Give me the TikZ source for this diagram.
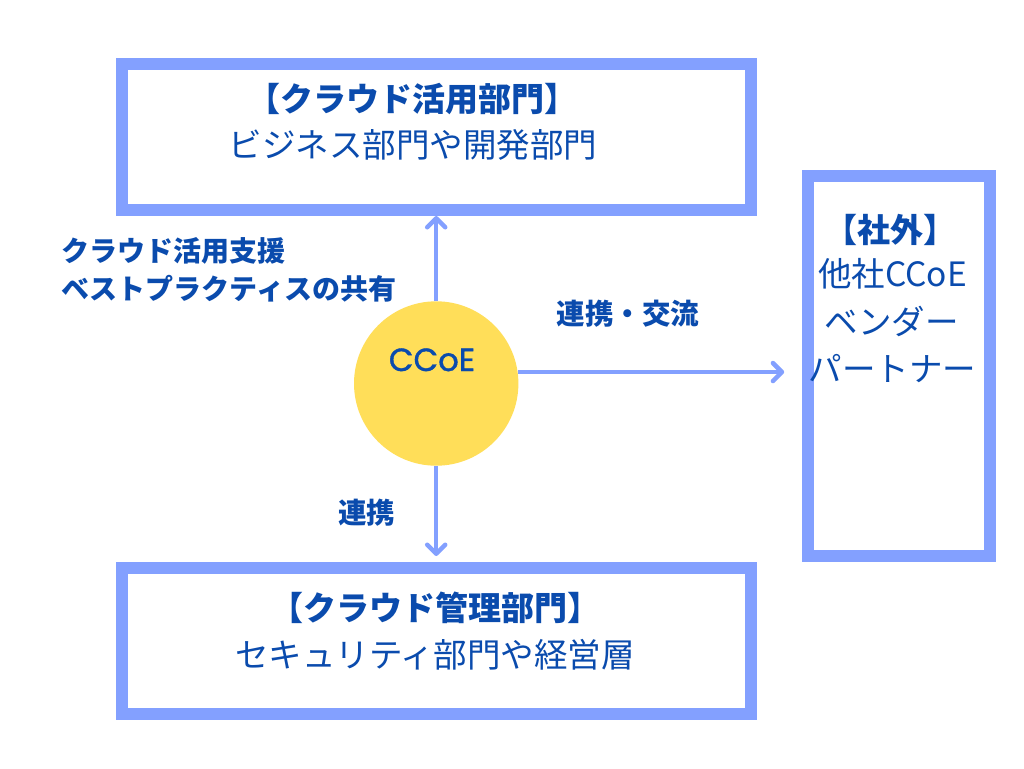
\documentclass[tikz,border=0pt]{standalone}
\usepackage{fontspec}
\setmainfont{Noto Sans CJK JP}
\newfontfamily\ccoefont[FakeBold=1.2]{Poppins}
\usetikzlibrary{arrows.meta}
\definecolor{boxc}{HTML}{83A0FF}
\definecolor{txtc}{HTML}{0A4BAD}
\definecolor{sun}{HTML}{FFDE59}
\tikzset{
  frame/.style={draw=boxc, line width=12pt, inner sep=0pt},
  lbl/.style={text=txtc, inner sep=0pt, anchor=base},
  big/.style={font=\fontsize{33.5}{40}\selectfont},
  bigb/.style={font=\fontsize{33}{40}\selectfont\bfseries},
  midb/.style={font=\fontsize{28}{34}\selectfont\bfseries},
  arr/.style={draw=boxc, line width=4.5pt, -{Straight Barb[length=9pt,width=18pt,round]}},
}
\begin{document}
\begin{tikzpicture}[x=1pt,y=-1pt]
\useasboundingbox[fill=white] (0,0) rectangle (1024,768);
% boxes
\node[frame, minimum width=628.7pt, minimum height=145.7pt] (top) at (436.35,137.15) {};
\node[frame, minimum width=628.7pt, minimum height=146.3pt] (bot) at (436.35,641.15) {};
\node[frame, minimum width=181.5pt, minimum height=379.7pt] (ext) at (898.95,365.85) {};
% circle
\node[circle, fill=sun, inner sep=0pt, minimum size=164.4pt] (ccoe) at (436.2,383.5) {};
\node[lbl, font=\fontsize{32}{38}\ccoefont] (ccoet) at (432,371) {CCoE};
% box texts
\node[lbl, bigb] (toptitle) at (412,111.5) {【クラウド活用部門】};
\node[lbl, big] (topsub) at (413,157) {ビジネス部門や開発部門};
\node[lbl, bigb] (bottitle) at (435,620) {【クラウド管理部門】};
\node[lbl, big] (botsub) at (435,667.5) {セキュリティ部門や経営層};
\node[lbl, bigb] (exttitle) at (890,242) {【社外】};
\node[lbl, big] (ext1) at (892.5,286.5) {他社CCoE};
\node[lbl, big] (ext2) at (891.5,334.5) {ベンダー};
\node[lbl, big] (ext3) at (892.5,381.5) {パートナー};
% connector labels
\node[lbl, midb, anchor=base west] (sup1) at (61,261.5) {クラウド活用支援};
\node[lbl, midb, anchor=base west] (sup2) at (61,299.5) {ベストプラクティスの共有};
\node[lbl, font=\fontsize{28.5}{34}\selectfont\bfseries] (xch) at (628,324) {連携・交流};
\node[lbl, font=\fontsize{28.5}{34}\selectfont\bfseries] (coop) at (366.5,523) {連携};
% connectors
\draw[arr] (ccoe.north) -- (ccoe.north |- top.south);
\draw[arr, shorten >=6pt] (ccoe.south) -- (ccoe.south |- bot.north);
\draw[arr, shorten >=18pt] (ccoe.8) -- (ccoe.8 -| ext.west);
\end{tikzpicture}
\end{document}
